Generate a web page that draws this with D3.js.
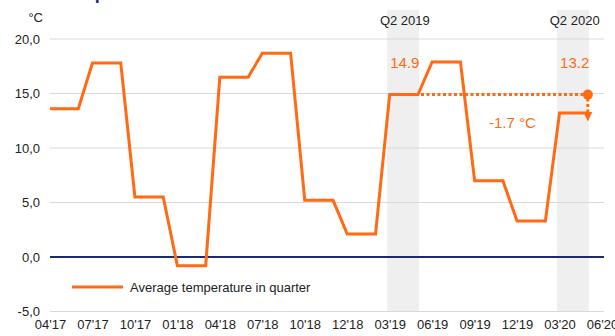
<!DOCTYPE html>
<html>
<head>
<meta charset="utf-8">
<script src="https://cdn.jsdelivr.net/npm/d3@7"></script>
<style>
  html, body { margin: 0; padding: 0; background: #fff; }
  svg { display: block; font-family: "Liberation Sans", Arial, sans-serif; }
</style>
</head>
<body>
<svg id="chart" width="615" height="336"></svg>
<script>
// Monthly category slots; each quarter's average is held for three months.
const tickLabels = ["04'17","07'17","10'17","01'18","04'18","07'18","10'18","12'18",
                    "03'19","06'19","09'19","12'19","03'20","06'20"];
const quarters = ["Q2 2017","Q3 2017","Q4 2017","Q1 2018","Q2 2018","Q3 2018","Q4 2018",
                  "Q1 2019","Q2 2019","Q3 2019","Q4 2019","Q1 2020","Q2 2020"];
const quarterAvg = [13.6, 17.8, 5.5, -0.8, 16.5, 18.7, 5.2, 2.1, 14.9, 17.9, 7.0, 3.3, 13.2];
const yTicks = [-5, 0, 5, 10, 15, 20];
const highlighted = ["Q2 2019", "Q2 2020"];
const seriesName = "Average temperature in quarter";

const monthsPerQuarter = 3;
const slotCount = tickLabels.length * monthsPerQuarter - 2; // 40 slots
const points = [];
quarterAvg.forEach((v, q) => {
  for (let m = 0; m < monthsPerQuarter; m++) points.push({ i: q * monthsPerQuarter + m, v });
});

const orange = "#ff6a13";
const svg = d3.select("#chart");

// Plain hyphen-minus and decimal comma
const fmt1 = v => d3.format(".1f")(v).replace("\u2212", "-");

const x = d3.scalePoint().domain(d3.range(slotCount)).range([50, 602]);
const y = d3.scaleLinear().domain([-5, 20]).range([311.5, 39]);

// Cut-off heading at the top edge
svg.append("text").attr("x", 59).attr("y", -1)
  .attr("font-size", 18).attr("font-weight", "bold").attr("fill", "#1c2b6e")
  .text("Temperature");

// Highlight bands for the compared quarters
const bandIdx = highlighted.map(q => quarters.indexOf(q) * monthsPerQuarter);
svg.append("g").selectAll("rect").data(bandIdx).join("rect")
  .attr("x", d => x(d) - 2.5)
  .attr("width", d => x(d + 2) - x(d) + 3.5)
  .attr("y", 10).attr("height", y(-5) - 10)
  .attr("fill", "#efefef");

// Horizontal gridlines
svg.append("g").selectAll("line").data(yTicks.filter(t => t !== 0)).join("line")
  .attr("x1", 50).attr("x2", 604)
  .attr("y1", d => y(d)).attr("y2", d => y(d))
  .attr("stroke", "#d9d9d9").attr("stroke-width", 1.2);

// Zero line
svg.append("line").attr("x1", 50).attr("x2", 604)
  .attr("y1", y(0)).attr("y2", y(0))
  .attr("stroke", "#1c2b6e").attr("stroke-width", 2);

// Y axis labels
const yAxis = d3.axisLeft(y).tickValues(yTicks)
  .tickFormat(d => fmt1(d).replace(".", ",")).tickSize(0).tickPadding(10);
svg.append("g").attr("transform", "translate(50,0)").call(yAxis)
  .call(g => g.select(".domain").remove())
  .call(g => g.selectAll("text").attr("font-size", 13).attr("fill", "#222")
    .attr("font-family", "Liberation Sans, Arial, sans-serif"));

svg.append("text").attr("x", 43).attr("y", 22).attr("text-anchor", "end")
  .attr("font-size", 13).attr("fill", "#222").text("°C");

// X axis labels, one every quarter
const xAxis = d3.axisBottom(x)
  .tickValues(tickLabels.map((_, k) => k * monthsPerQuarter))
  .tickFormat(d => tickLabels[d / monthsPerQuarter]).tickSize(0).tickPadding(0);
svg.append("g").attr("transform", "translate(0,320)").call(xAxis)
  .call(g => g.select(".domain").remove())
  .call(g => g.selectAll("text").attr("font-size", 13).attr("fill", "#222")
    .attr("font-family", "Liberation Sans, Arial, sans-serif"));

// Temperature line
svg.append("path").datum(points)
  .attr("d", d3.line().x(d => x(d.i)).y(d => y(d.v)))
  .attr("fill", "none").attr("stroke", orange).attr("stroke-width", 3)
  .attr("stroke-linejoin", "miter");

// Year-over-year comparison
const iA = quarters.indexOf(highlighted[0]);
const iB = quarters.indexOf(highlighted[1]);
const vA = quarterAvg[iA], vB = quarterAvg[iB];
const endA = x(iA * monthsPerQuarter + 2);
const endB = x(iB * monthsPerQuarter + 2);

svg.append("line").attr("x1", endA + 3).attr("x2", endB)
  .attr("y1", y(vA)).attr("y2", y(vA))
  .attr("stroke", orange).attr("stroke-width", 3).attr("stroke-dasharray", "3,2.5");
svg.append("line").attr("x1", endB).attr("x2", endB)
  .attr("y1", y(vA) + 4).attr("y2", y(vB))
  .attr("stroke", orange).attr("stroke-width", 3).attr("stroke-dasharray", "3,2.5");
svg.append("circle").attr("cx", endB).attr("cy", y(vA)).attr("r", 5).attr("fill", orange);
svg.append("path")
  .attr("d", `M${endB - 4.5},${y(vB) - 1}L${endB + 4.5},${y(vB) - 1}L${endB},${y(vB) + 8.5}Z`)
  .attr("fill", orange);

const midA = (x(iA * monthsPerQuarter) + endA) / 2;
const midB = (x(iB * monthsPerQuarter) + endB) / 2;
[[midA, vA, highlighted[0]], [midB, vB, highlighted[1]]].forEach(([cx, v, q]) => {
  svg.append("text").attr("x", cx + 1).attr("y", 25).attr("text-anchor", "middle")
    .attr("font-size", 13).attr("fill", "#222").text(q);
  svg.append("text").attr("x", cx + 1).attr("y", 68).attr("text-anchor", "middle")
    .attr("font-size", 15).attr("fill", orange).text(fmt1(v));
});
svg.append("text").attr("x", 489).attr("y", 128)
  .attr("font-size", 15).attr("fill", orange)
  .text(`${fmt1(vB - vA)} °C`);

// Legend
svg.append("line").attr("x1", 72).attr("x2", 123).attr("y1", 287).attr("y2", 287)
  .attr("stroke", orange).attr("stroke-width", 3);
svg.append("text").attr("x", 130).attr("y", 292)
  .attr("font-size", 13).attr("fill", "#222").text(seriesName);
</script>
</body>
</html>
